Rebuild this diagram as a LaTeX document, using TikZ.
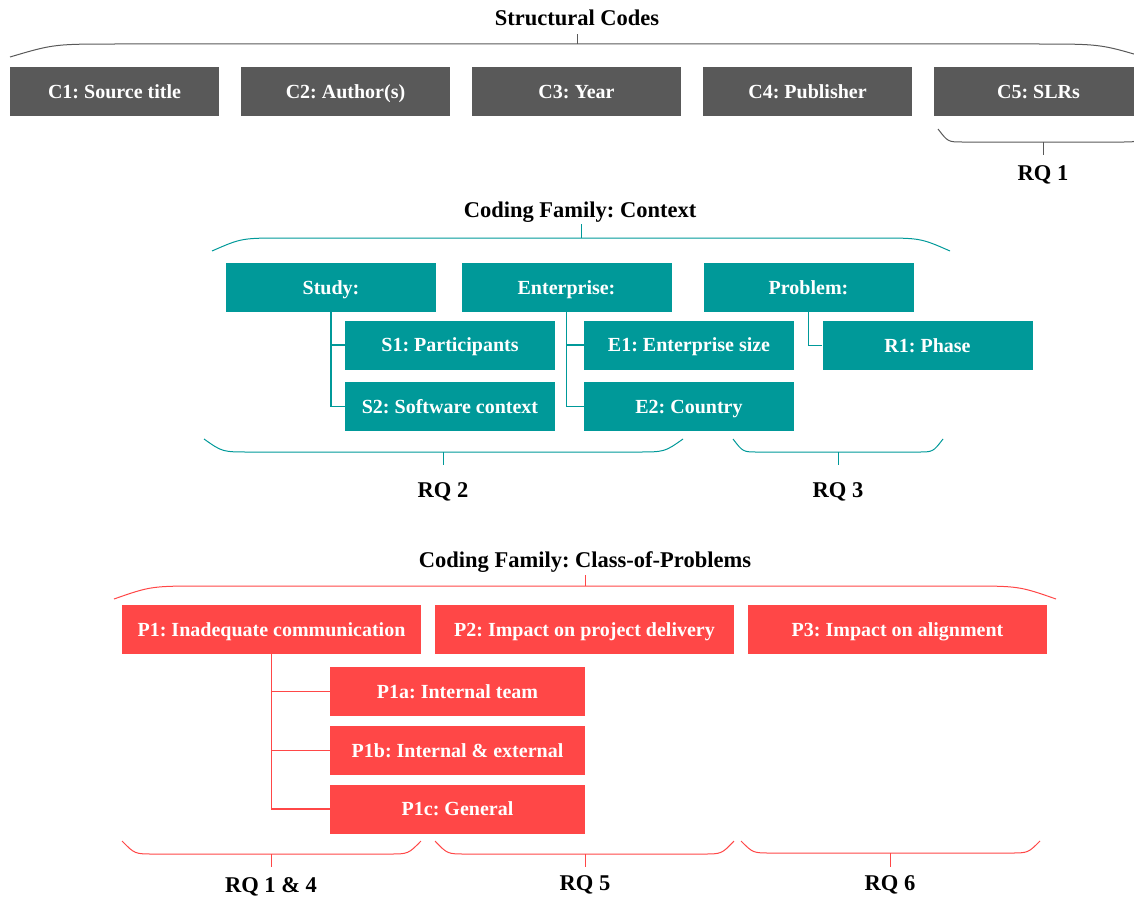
\documentclass[tikz,border=0pt]{standalone}
\usepackage{fontspec}
\setmainfont{Liberation Serif}
\frenchspacing
\definecolor{codegrey}{HTML}{595959}
\definecolor{codeteal}{HTML}{009999}
\definecolor{codered}{HTML}{FF4747}
\tikzset{
  codebox/.style={fill=#1, text=white, inner sep=0pt, minimum height=49pt,
    text height=14pt, text depth=1pt,
    font=\bfseries\fontsize{20}{20}\selectfont},
  grey box/.style={codebox=codegrey, minimum width=209pt},
  teal box/.style={codebox=codeteal, minimum width=210pt},
  red box/.style={codebox=codered, minimum width=299pt},
  red sub/.style={codebox=codered, minimum width=255pt},
  heading/.style={inner sep=0pt, anchor=base, font=\bfseries\fontsize{22.5}{22.5}\selectfont},
  link/.style={line width=1.1pt},
  bracket/.style={line width=1pt},
}
% a brace whose two ends bend away from a straight middle run, with a stem
% #1 colour, #2 left x, #3 right x, #4 y of the ends, #5 y of the run,
% #6 length of each bend, #7 stem x, #8 y of the stem's free end
\newcommand\codebrace[8]{%
  \draw[bracket,#1] (#2,#4) .. controls ({#2+0.4*#6},#5) .. ({#2+#6},#5)
     -- ({#3-#6},#5) .. controls ({#3-0.4*#6},#5) .. (#3,#4);
  \draw[bracket,#1] (#7,#5) -- (#7,#8);}
\begin{document}
\begin{tikzpicture}[x=1pt,y=-1pt]
\useasboundingbox (0,0) rectangle (1134,899);
\clip (0,0) rectangle (1134,899);

% ---- structural codes ----
\node[heading] (hstruct) at (577,25.5) {Structural Codes};
\codebrace{codegrey}{10}{1144}{57}{44}{110}{577}{34}
\node[grey box] (c1) at (114.5,91.5) {C1: Source title};
\node[grey box] (c2) at (345.5,91.5) {C2: Author(s)};
\node[grey box] (c3) at (576.5,91.5) {C3: Year};
\node[grey box] (c4) at (807.5,91.5) {C4: Publisher};
\node[grey box] (c5) at (1038.5,91.5) {C5: SLRs};
\codebrace{codegrey}{938}{1148}{129}{142}{25}{1043}{155}
\node[heading] (rq1) at (1043,180) {RQ 1};

% ---- coding family: context ----
\node[heading] (hcontext) at (580,217.5) {Coding Family: Context};
\codebrace{codeteal}{212}{950}{251}{238}{74}{581}{224}
\node[teal box] (study) at (331,287.5) {Study:};
\node[teal box] (enter) at (566.5,287.5) {Enterprise:};
\node[teal box] (prob) at (808.5,287.5) {Problem:};
\node[teal box] (s1) at (450,345) {S1: Participants};
\node[teal box] (s2) at (450,406.5) {S2: Software context};
\node[teal box] (e1) at (689,345) {E1: Enterprise size};
\node[teal box] (e2) at (689,406.5) {E2: Country};
\node[teal box] (r1) at (927.5,345.5) {R1: Phase};
\draw[link,codeteal] (study.south) |- (s1.west);
\draw[link,codeteal] (study.south) |- (s2.west);
\draw[link,codeteal] (enter.south) |- (e1.west);
\draw[link,codeteal] (enter.south) |- (e2.west);
\draw[link,codeteal] (prob.south) |- (r1.west);
\codebrace{codeteal}{204}{683}{439}{452}{46}{443}{465}
\codebrace{codeteal}{733}{943}{439}{452}{25}{838}{465}
\node[heading] (rq2) at (443,497) {RQ 2};
\node[heading] (rq3) at (838,497) {RQ 3};

% ---- coding family: class-of-problems ----
\node[heading] (hclass) at (585,567.5) {Coding Family: Class-of-Problems};
\codebrace{codered}{114}{1056}{599}{586}{93}{585}{575}
\node[red box] (p1) at (271.5,629.5) {P1: Inadequate communication};
\node[red box] (p2) at (584.5,629.5) {P2: Impact on project delivery};
\node[red box] (p3) at (897.5,629.5) {P3: Impact on alignment};
\node[red sub] (p1a) at (457.5,691.5) {P1a: Internal team};
\node[red sub] (p1b) at (457.5,750.5) {P1b: Internal \& external};
\node[red sub] (p1c) at (457.5,809) {P1c: General};
\draw[link,codered] (p1.south) |- (p1a.west);
\draw[link,codered] (p1.south) |- (p1b.west);
\draw[link,codered] (p1.south) |- (p1c.west);
\codebrace{codered}{122}{421}{841}{854}{32}{271}{867}
\codebrace{codered}{435}{734}{841}{854}{31}{585}{867}
\codebrace{codered}{741}{1040}{841}{853}{30}{890}{867}
\node[heading] (rq14) at (271,892) {RQ 1 \& 4};
\node[heading] (rq5) at (585,890) {RQ 5};
\node[heading] (rq6) at (890,890) {RQ 6};
\end{tikzpicture}
\end{document}
